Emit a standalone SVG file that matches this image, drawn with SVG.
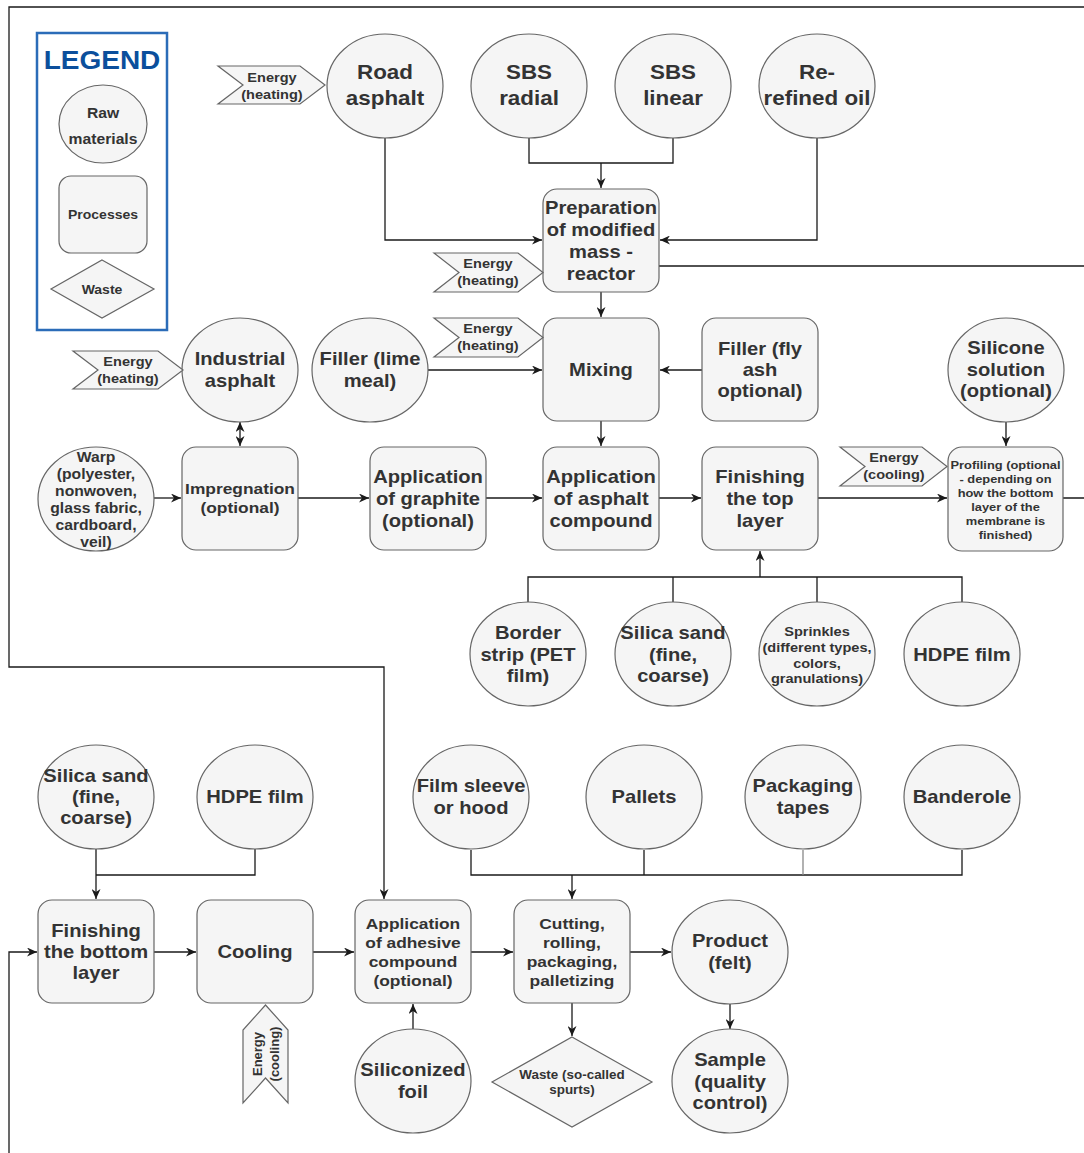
<svg xmlns="http://www.w3.org/2000/svg" width="1084" height="1153" viewBox="0 0 1084 1153">
<style>
.n{fill:#f5f5f5;stroke:#666;stroke-width:1.2}
text{font-family:"Liberation Sans",Arial,sans-serif;font-weight:bold;fill:#333;text-anchor:middle}
.t20{font-size:20px}.t18{font-size:18px}.t155{font-size:15.5px}.t14{font-size:14px}.t13{font-size:13px}.t125{font-size:12.5px}.t12{font-size:12px}.t115{font-size:11.5px}
.c{fill:none;stroke:#1a1a1a;stroke-width:1.3}
.ca{fill:none;stroke:#1a1a1a;stroke-width:1.3;marker-end:url(#ah)}
</style>
<defs>
<marker id="ah" markerUnits="userSpaceOnUse" markerWidth="11" markerHeight="9" refX="10" refY="4.5" orient="auto-start-reverse" viewBox="0 0 11 9">
<path d="M0,0 L10,4.5 L0,9 L3,4.5 z" fill="#1a1a1a"/>
</marker>
</defs>
<rect width="1084" height="1153" fill="#fff"/>

<g id="connectors">
<path class="c" d="M529 138 V163 H673 V138"/>
<path class="ca" d="M601 163 V188"/>
<path class="ca" d="M385 138 V240 H542"/>
<path class="ca" d="M817 138 V240 H660"/>
<path class="ca" d="M601 292 V317"/>
<path class="ca" d="M428 370 H542"/>
<path class="ca" d="M702 370 H660"/>
<path class="ca" d="M601 421 V446"/>
<path class="ca" d="M240 422 V446" marker-start="url(#ah)"/>
<path class="ca" d="M154 498 H181"/>
<path class="ca" d="M298 498 H369"/>
<path class="ca" d="M486 498 H542"/>
<path class="ca" d="M659 498 H701"/>
<path class="ca" d="M818 498 H947"/>
<path class="ca" d="M1006 422 V446"/>
<path class="c" d="M528 603 V577 H962 V603 M673 603 V577 M817 603 V577"/>
<path class="ca" d="M760 577 V551"/>
<path class="ca" d="M659 266 H1100 V7 H9 V667 H384 V899"/>
<path class="ca" d="M1063 498 H1100 V1170 H9 V952 H37"/>
<path class="ca" d="M96 849 V899"/>
<path class="c" d="M255 849 V875 H96"/>
<path class="c" d="M471 850 V875 H962 V850 M644 850 V875"/>
<path d="M803 850 V875" fill="none" stroke="#888" stroke-width="1.3"/>
<path class="ca" d="M572 875 V899"/>
<path class="ca" d="M154 952 H196"/>
<path class="ca" d="M313 952 H354"/>
<path class="ca" d="M471 952 H513"/>
<path class="ca" d="M630 952 H671"/>
<path class="ca" d="M413 1030 V1004"/>
<path class="ca" d="M572 1003 V1036"/>
<path class="ca" d="M730 1004 V1029"/>
</g>

<g id="legend">
<rect x="37" y="33" width="130" height="297" fill="none" stroke="#2b6cb8" stroke-width="2.5"/>
<text transform="translate(102 0) scale(1.12 1)" style="font-size:25px;fill:#0b4f9c"><tspan x="0" y="69">LEGEND</tspan></text>
<ellipse class="n" cx="103" cy="124" rx="44" ry="39"/>
<text class="t14" transform="translate(103 0) scale(1.12 1)"><tspan x="0" y="118">Raw</tspan><tspan x="0" y="144">materials</tspan></text>
<rect class="n" x="59" y="176" width="88" height="77" rx="12"/>
<text class="t125" transform="translate(103 0) scale(1.12 1)"><tspan x="0" y="219.5">Processes</tspan></text>
<polygon class="n" points="102,260 154,289 102,318 51,289"/>
<text class="t125" transform="translate(102 0) scale(1.12 1)"><tspan x="0" y="294">Waste</tspan></text>
</g>

<g id="energy-road">
<polygon class="n" points="218,66 300,66 325,85 300,104 218,104 243,85"/>
<text class="t13" transform="translate(272 0) scale(1.12 1)"><tspan x="0" y="82">Energy</tspan><tspan x="0" y="99">(heating)</tspan></text>
</g>
<g id="road-asphalt">
<ellipse class="n" cx="385" cy="86" rx="58" ry="52"/>
<text class="t20" transform="translate(385 0) scale(1.12 1)"><tspan x="0" y="79">Road</tspan><tspan x="0" y="105">asphalt</tspan></text>
</g>
<g id="sbs-radial">
<ellipse class="n" cx="529" cy="86" rx="58" ry="52"/>
<text class="t20" transform="translate(529 0) scale(1.12 1)"><tspan x="0" y="79">SBS</tspan><tspan x="0" y="105">radial</tspan></text>
</g>
<g id="sbs-linear">
<ellipse class="n" cx="673" cy="86" rx="58" ry="52"/>
<text class="t20" transform="translate(673 0) scale(1.12 1)"><tspan x="0" y="79">SBS</tspan><tspan x="0" y="105">linear</tspan></text>
</g>
<g id="rerefined-oil">
<ellipse class="n" cx="817" cy="86" rx="58" ry="52"/>
<text class="t20" transform="translate(817 0) scale(1.12 1)"><tspan x="0" y="79">Re-</tspan><tspan x="0" y="105">refined oil</tspan></text>
</g>

<g id="preparation">
<rect class="n" x="543" y="189" width="116" height="103" rx="14"/>
<text class="t18" transform="translate(601 0) scale(1.12 1)"><tspan x="0" y="214">Preparation</tspan><tspan x="0" y="236">of modified</tspan><tspan x="0" y="258">mass -</tspan><tspan x="0" y="280">reactor</tspan></text>
</g>
<g id="energy-prep">
<polygon class="n" points="434,253 518,253 543,272.5 518,292 434,292 459,272.5"/>
<text class="t13" transform="translate(488 0) scale(1.12 1)"><tspan x="0" y="268.5">Energy</tspan><tspan x="0" y="285.5">(heating)</tspan></text>
</g>

<g id="mixing">
<rect class="n" x="543" y="318" width="116" height="103" rx="14"/>
<text class="t18" transform="translate(601 0) scale(1.12 1)"><tspan x="0" y="376">Mixing</tspan></text>
</g>
<g id="energy-mix">
<polygon class="n" points="434,318 518,318 543,337.5 518,357 434,357 459,337.5"/>
<text class="t13" transform="translate(488 0) scale(1.12 1)"><tspan x="0" y="333.5">Energy</tspan><tspan x="0" y="350.5">(heating)</tspan></text>
</g>
<g id="filler-lime">
<ellipse class="n" cx="370" cy="370" rx="58" ry="52"/>
<text class="t18" transform="translate(370 0) scale(1.12 1)"><tspan x="0" y="365">Filler (lime</tspan><tspan x="0" y="387">meal)</tspan></text>
</g>
<g id="filler-flyash">
<rect class="n" x="702" y="318" width="116" height="103" rx="14"/>
<text class="t18" transform="translate(760 0) scale(1.12 1)"><tspan x="0" y="355">Filler (fly</tspan><tspan x="0" y="376">ash</tspan><tspan x="0" y="397">optional)</tspan></text>
</g>
<g id="industrial-asphalt">
<ellipse class="n" cx="240" cy="370" rx="58" ry="52"/>
<text class="t18" transform="translate(240 0) scale(1.12 1)"><tspan x="0" y="365">Industrial</tspan><tspan x="0" y="387">asphalt</tspan></text>
</g>
<g id="energy-industrial">
<polygon class="n" points="73,351 158,351 183,370 158,389 73,389 98,370"/>
<text class="t13" transform="translate(128 0) scale(1.12 1)"><tspan x="0" y="366">Energy</tspan><tspan x="0" y="383">(heating)</tspan></text>
</g>
<g id="silicone-solution">
<ellipse class="n" cx="1006" cy="370" rx="58" ry="52"/>
<text class="t18" transform="translate(1006 0) scale(1.12 1)"><tspan x="0" y="354">Silicone</tspan><tspan x="0" y="376">solution</tspan><tspan x="0" y="397">(optional)</tspan></text>
</g>

<g id="warp">
<ellipse class="n" cx="96" cy="499" rx="58" ry="52"/>
<text class="t14" transform="translate(96 0) scale(1.12 1)"><tspan x="0" y="462">Warp</tspan><tspan x="0" y="479">(polyester,</tspan><tspan x="0" y="496">nonwoven,</tspan><tspan x="0" y="513">glass fabric,</tspan><tspan x="0" y="530">cardboard,</tspan><tspan x="0" y="547">veil)</tspan></text>
</g>
<g id="impregnation">
<rect class="n" x="182" y="447" width="116" height="103" rx="14"/>
<text class="t155" transform="translate(240 0) scale(1.12 1)"><tspan x="0" y="494.5">Impregnation</tspan><tspan x="0" y="513.5">(optional)</tspan></text>
</g>
<g id="graphite">
<rect class="n" x="370" y="447" width="116" height="103" rx="14"/>
<text class="t18" transform="translate(428 0) scale(1.12 1)"><tspan x="0" y="483">Application</tspan><tspan x="0" y="505">of graphite</tspan><tspan x="0" y="527">(optional)</tspan></text>
</g>
<g id="asphalt-compound">
<rect class="n" x="543" y="447" width="116" height="103" rx="14"/>
<text class="t18" transform="translate(601 0) scale(1.12 1)"><tspan x="0" y="483">Application</tspan><tspan x="0" y="505">of asphalt</tspan><tspan x="0" y="527">compound</tspan></text>
</g>
<g id="finishing-top">
<rect class="n" x="702" y="447" width="116" height="103" rx="14"/>
<text class="t18" transform="translate(760 0) scale(1.12 1)"><tspan x="0" y="483">Finishing</tspan><tspan x="0" y="505">the top</tspan><tspan x="0" y="527">layer</tspan></text>
</g>
<g id="energy-cooling-top">
<polygon class="n" points="840,447 922,447 947,466.5 922,486 840,486 865,466.5"/>
<text class="t13" transform="translate(894 0) scale(1.12 1)"><tspan x="0" y="462.5">Energy</tspan><tspan x="0" y="479.5">(cooling)</tspan></text>
</g>
<g id="profiling">
<rect class="n" x="948" y="447" width="115" height="104" rx="14"/>
<text class="t115" transform="translate(1005.5 0) scale(1.12 1)"><tspan x="0" y="469">Profiling (optional</tspan><tspan x="0" y="483">- depending on</tspan><tspan x="0" y="497">how the bottom</tspan><tspan x="0" y="511">layer of the</tspan><tspan x="0" y="525">membrane is</tspan><tspan x="0" y="539">finished)</tspan></text>
</g>

<g id="border-strip">
<ellipse class="n" cx="528" cy="654" rx="58" ry="52"/>
<text class="t18" transform="translate(528 0) scale(1.12 1)"><tspan x="0" y="639">Border</tspan><tspan x="0" y="661">strip (PET</tspan><tspan x="0" y="682">film)</tspan></text>
</g>
<g id="silica-sand-top">
<ellipse class="n" cx="673" cy="654" rx="58" ry="52"/>
<text class="t18" transform="translate(673 0) scale(1.12 1)"><tspan x="0" y="639">Silica sand</tspan><tspan x="0" y="661">(fine,</tspan><tspan x="0" y="682">coarse)</tspan></text>
</g>
<g id="sprinkles">
<ellipse class="n" cx="817" cy="654" rx="58" ry="52"/>
<text class="t13" transform="translate(817 0) scale(1.12 1)"><tspan x="0" y="636.5">Sprinkles</tspan><tspan x="0" y="652.5">(different types,</tspan><tspan x="0" y="668">colors,</tspan><tspan x="0" y="683.5">granulations)</tspan></text>
</g>
<g id="hdpe-top">
<ellipse class="n" cx="962" cy="654" rx="58" ry="52"/>
<text class="t18" transform="translate(962 0) scale(1.12 1)"><tspan x="0" y="661">HDPE film</tspan></text>
</g>

<g id="silica-sand-bottom">
<ellipse class="n" cx="96" cy="797" rx="58" ry="52"/>
<text class="t18" transform="translate(96 0) scale(1.12 1)"><tspan x="0" y="782">Silica sand</tspan><tspan x="0" y="803">(fine,</tspan><tspan x="0" y="824">coarse)</tspan></text>
</g>
<g id="hdpe-bottom">
<ellipse class="n" cx="255" cy="797" rx="58" ry="52"/>
<text class="t18" transform="translate(255 0) scale(1.12 1)"><tspan x="0" y="803">HDPE film</tspan></text>
</g>
<g id="film-sleeve">
<ellipse class="n" cx="471" cy="797" rx="58" ry="52"/>
<text class="t18" transform="translate(471 0) scale(1.12 1)"><tspan x="0" y="792">Film sleeve</tspan><tspan x="0" y="814">or hood</tspan></text>
</g>
<g id="pallets">
<ellipse class="n" cx="644" cy="797" rx="58" ry="52"/>
<text class="t18" transform="translate(644 0) scale(1.12 1)"><tspan x="0" y="803">Pallets</tspan></text>
</g>
<g id="packaging-tapes">
<ellipse class="n" cx="803" cy="797" rx="58" ry="52"/>
<text class="t18" transform="translate(803 0) scale(1.12 1)"><tspan x="0" y="792">Packaging</tspan><tspan x="0" y="814">tapes</tspan></text>
</g>
<g id="banderole">
<ellipse class="n" cx="962" cy="797" rx="58" ry="52"/>
<text class="t18" transform="translate(962 0) scale(1.12 1)"><tspan x="0" y="803">Banderole</tspan></text>
</g>

<g id="finishing-bottom">
<rect class="n" x="38" y="900" width="116" height="103" rx="14"/>
<text class="t18" transform="translate(96 0) scale(1.12 1)"><tspan x="0" y="937">Finishing</tspan><tspan x="0" y="958">the bottom</tspan><tspan x="0" y="979">layer</tspan></text>
</g>
<g id="cooling">
<rect class="n" x="197" y="900" width="116" height="103" rx="14"/>
<text class="t18" transform="translate(255 0) scale(1.12 1)"><tspan x="0" y="958">Cooling</tspan></text>
</g>
<g id="energy-cooling-bottom">
<polygon class="n" points="265.5,1005 288,1030 288,1103 265.5,1078 243,1103 243,1030"/>
<text class="t13" transform="translate(265.5 1054) rotate(-90)"><tspan x="0" y="-4">Energy</tspan><tspan x="0" y="13">(cooling)</tspan></text>
</g>
<g id="adhesive">
<rect class="n" x="355" y="900" width="116" height="103" rx="14"/>
<text class="t155" transform="translate(413 0) scale(1.12 1)"><tspan x="0" y="929.5">Application</tspan><tspan x="0" y="948.5">of adhesive</tspan><tspan x="0" y="967.5">compound</tspan><tspan x="0" y="986.5">(optional)</tspan></text>
</g>
<g id="cutting">
<rect class="n" x="514" y="900" width="116" height="103" rx="14"/>
<text class="t155" transform="translate(572 0) scale(1.12 1)"><tspan x="0" y="929.5">Cutting,</tspan><tspan x="0" y="948.5">rolling,</tspan><tspan x="0" y="967.5">packaging,</tspan><tspan x="0" y="986.5">palletizing</tspan></text>
</g>
<g id="product">
<ellipse class="n" cx="730" cy="952" rx="58" ry="52"/>
<text class="t18" transform="translate(730 0) scale(1.12 1)"><tspan x="0" y="947">Product</tspan><tspan x="0" y="969">(felt)</tspan></text>
</g>
<g id="siliconized-foil">
<ellipse class="n" cx="413" cy="1081" rx="58" ry="52"/>
<text class="t18" transform="translate(413 0) scale(1.12 1)"><tspan x="0" y="1076">Siliconized</tspan><tspan x="0" y="1098">foil</tspan></text>
</g>
<g id="waste-spurts">
<polygon class="n" points="572,1037 652,1082 572,1127 492,1082"/>
<text class="t12" transform="translate(572 0) scale(1.12 1)"><tspan x="0" y="1079">Waste (so-called</tspan><tspan x="0" y="1094">spurts)</tspan></text>
</g>
<g id="sample">
<ellipse class="n" cx="730" cy="1081" rx="58" ry="52"/>
<text class="t18" transform="translate(730 0) scale(1.12 1)"><tspan x="0" y="1066">Sample</tspan><tspan x="0" y="1088">(quality</tspan><tspan x="0" y="1109">control)</tspan></text>
</g>
</svg>
